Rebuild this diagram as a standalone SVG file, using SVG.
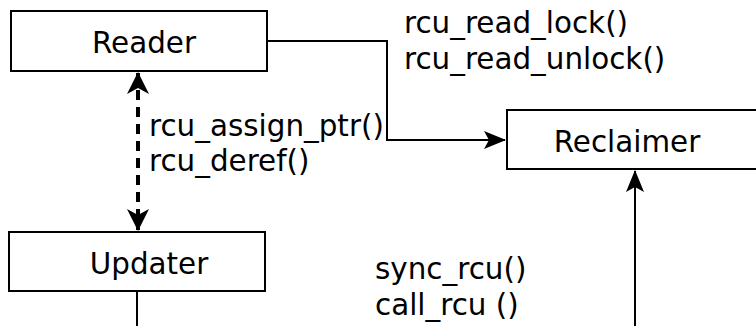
<svg xmlns="http://www.w3.org/2000/svg" width="756" height="326" viewBox="0 0 756 326">
<style>
.box{fill:#fff;stroke:#000;stroke-width:2}
.t{font-family:"DejaVu Sans",sans-serif;font-size:29.4px;fill:#000}
.c{text-anchor:middle}
.ln{fill:none;stroke:#000;stroke-width:2}
.dash{fill:none;stroke:#000;stroke-width:4;stroke-dasharray:10,7}
</style>
<defs>
<marker id="ahb" markerWidth="22" markerHeight="22" refX="21" refY="11" orient="auto-start-reverse" markerUnits="userSpaceOnUse" viewBox="0 0 22 22">
<path d="M0,0 L22,11 L0,22 L6,11 Z" fill="#000"/>
</marker>
<marker id="ah2" markerWidth="22" markerHeight="18" refX="21" refY="9" orient="auto" markerUnits="userSpaceOnUse" viewBox="0 0 22 18">
<path d="M0,0 L22,9 L0,18 L5,9 Z" fill="#000"/>
</marker>
</defs>
<g id="connectors">
<path class="ln" d="M267,41 H387 V140 H505" marker-end="url(#ah2)"/>
<path class="dash" d="M138,73 V230" marker-start="url(#ahb)" marker-end="url(#ahb)"/>
<path class="ln" d="M137,292 V326"/>
<path class="ln" d="M635,326 V171" marker-end="url(#ah2)"/>
</g>
<g id="reader">
<rect class="box" x="11" y="11" width="256" height="60"/>
<text class="t c" x="144" y="53">Reader</text>
</g>
<g id="reclaimer">
<rect class="box" x="507" y="110" width="260" height="59"/>
<text class="t c" x="627" y="152">Reclaimer</text>
</g>
<g id="updater">
<rect class="box" x="9" y="232" width="256" height="59"/>
<text class="t c" x="149" y="274">Updater</text>
</g>
<g id="labels">
<text class="t" x="404" y="33">rcu_read_lock()</text>
<text class="t" x="404" y="69">rcu_read_unlock()</text>
<text class="t" x="149" y="136">rcu_assign_ptr()</text>
<text class="t" x="149" y="171">rcu_deref()</text>
<text class="t" x="375" y="279">sync_rcu()</text>
<text class="t" x="375" y="315">call_rcu ()</text>
</g>
</svg>
